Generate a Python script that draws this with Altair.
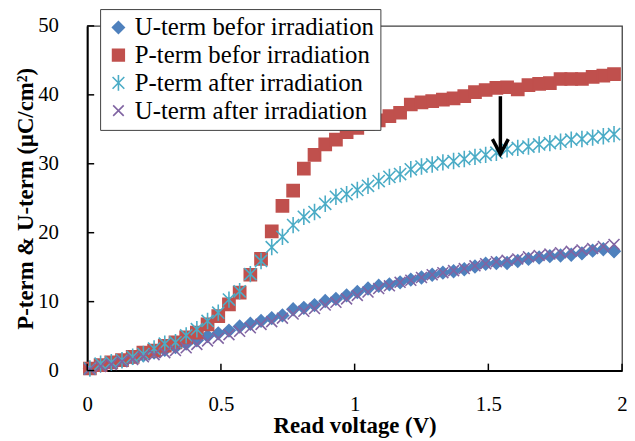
import altair as alt
import pandas as pd

# ---------------- data ----------------
voltage = [0.01, 0.05, 0.09, 0.13, 0.17, 0.21, 0.25, 0.29, 0.33, 0.37,
           0.41, 0.45, 0.49, 0.53, 0.57, 0.61, 0.65, 0.69, 0.73, 0.77,
           0.81, 0.85, 0.89, 0.93, 0.97, 1.01, 1.05, 1.09, 1.13, 1.17,
           1.21, 1.25, 1.29, 1.33, 1.37, 1.41, 1.45, 1.49, 1.53, 1.57,
           1.61, 1.65, 1.69, 1.73, 1.77, 1.81, 1.85, 1.89, 1.93, 1.97]

u_before = [0.3, 0.7, 1.0, 1.4, 1.8, 2.2, 2.6, 3.0, 3.4, 3.9,
            4.4, 5.0, 5.4, 5.8, 6.4, 6.8, 7.2, 7.6, 8.0, 8.9,
            9.1, 9.5, 10.1, 10.4, 10.9, 11.4, 11.9, 12.3, 12.5, 12.8,
            13.2, 13.5, 13.9, 14.2, 14.4, 14.7, 15.1, 15.5, 15.6, 15.6,
            15.9, 16.2, 16.4, 16.6, 16.7, 16.8, 17.0, 17.4, 17.6, 17.3]

p_before = [0.3, 0.8, 1.2, 1.5, 2.0, 2.6, 2.9, 3.6, 4.1, 4.8,
            5.5, 6.7, 7.9, 9.6, 11.3, 13.9, 16.2, 20.2, 23.9, 26.1,
            29.3, 31.3, 32.8, 33.5, 34.6, 35.2, 35.8, 36.3, 36.9, 37.4,
            38.6, 38.9, 39.1, 39.3, 39.5, 39.8, 40.4, 40.7, 41.0, 41.1,
            40.8, 41.4, 41.6, 41.7, 42.3, 42.3, 42.3, 42.6, 42.8, 43.0]

p_after = [0.3, 1.0, 1.2, 1.5, 2.0, 2.4, 3.2, 3.9, 4.1, 5.1,
           6.0, 7.2, 8.4, 10.3, 11.5, 14.0, 15.9, 17.9, 19.4, 21.1,
           22.3, 23.0, 24.2, 25.2, 25.6, 26.2, 26.8, 27.5, 28.1, 28.5,
           29.2, 29.6, 29.9, 30.2, 30.4, 30.7, 31.0, 31.3, 31.6, 32.1,
           32.3, 32.5, 32.8, 33.0, 33.2, 33.5, 33.6, 33.8, 34.0, 34.3]

u_after = [0.2, 0.6, 0.9, 1.3, 1.6, 2.0, 2.3, 2.6, 2.9, 3.3,
           3.8, 4.3, 4.7, 5.2, 5.7, 6.2, 6.7, 7.1, 7.6, 8.2,
           8.6, 9.0, 9.5, 9.9, 10.4, 10.9, 11.4, 11.9, 12.3, 12.8,
           13.1, 13.5, 13.9, 14.2, 14.5, 14.8, 15.2, 15.5, 15.8, 16.0,
           16.2, 16.5, 16.7, 16.9, 17.1, 17.3, 17.5, 17.7, 18.0, 18.3]

series_names = ["U-term befor irradiation", "P-term befor irradiation",
                "P-term after irradiation", "U-term after irradiation"]
series_values = [u_before, p_before, p_after, u_after]

x_ticks = [0, 0.5, 1, 1.5, 2]
y_ticks = [0, 10, 20, 30, 40, 50]

# annotation arrow (data coordinates)
arrow_x = [1.545]
arrow_top = [39.8]
arrow_tip = [31.4]

# ---------------- styling ----------------
colors = ["#4F81BD", "#C0504D", "#4BACC6", "#8064A2"]
fills = ["#4F81BD", "#C0504D", "transparent", "transparent"]
asterisk = "M-1,-1L1,1M-1,1L1,-1M0,-1.35L0,1.35"
xmark = "M-0.9,-0.9L0.9,0.9M-0.9,0.9L0.9,-0.9"
shapes = ["diamond", "square", asterisk, xmark]
FONT = "Liberation Serif"

rows = []
for name, vals in zip(series_names, series_values):
    for v, val in zip(voltage, vals):
        rows.append({"V": v, "Q": val, "series": name})
df = pd.DataFrame(rows)

xscale = alt.Scale(domain=[0, 2], nice=False)
yscale = alt.Scale(domain=[0, 50], nice=False)

xaxis = alt.Axis(values=x_ticks, ticks=False, grid=False, domainColor="black",
                 domainWidth=2, labelFont=FONT, labelFontSize=21, labelColor="black",
                 labelPadding=23, labelFlush=False, labelExpr="format(datum.value, '')",
                 title="Read voltage (V)", titleFont=FONT, titleFontSize=23,
                 titleFontWeight="bold", titleColor="black", titlePadding=1)
yaxis = alt.Axis(values=y_ticks, ticks=False, grid=False, domainColor="black",
                 domainWidth=2, labelFont=FONT, labelFontSize=21, labelColor="black",
                 labelPadding=29, title="P-term & U-term (μC/cm²)", titleFont=FONT,
                 titleFontSize=23, titleFontWeight="bold", titleColor="black",
                 titlePadding=0)

legend = alt.Legend(title=None, orient="none", legendX=13, legendY=-17,
                    labelFont=FONT, labelFontSize=25, labelColor="black",
                    symbolSize=140, symbolStrokeWidth=1.6, labelOffset=4,
                    rowPadding=2, padding=6, strokeColor="#404040",
                    fillColor="white", cornerRadius=0, labelLimit=400)

points = alt.Chart(df).mark_point(size=150, strokeWidth=1.6, opacity=1).encode(
    x=alt.X("V:Q", scale=xscale, axis=xaxis),
    y=alt.Y("Q:Q", scale=yscale, axis=yaxis),
    shape=alt.Shape("series:N", scale=alt.Scale(domain=series_names, range=shapes), legend=legend),
    stroke=alt.Stroke("series:N", scale=alt.Scale(domain=series_names, range=colors), legend=legend),
    fill=alt.Fill("series:N", scale=alt.Scale(domain=series_names, range=fills), legend=legend),
)

# inward tick marks
xt = alt.Chart(pd.DataFrame({"t": x_ticks})).mark_rule(color="black", strokeWidth=1.5).encode(
    x=alt.X("t:Q", scale=xscale), y=alt.value(348), y2=alt.value(341))
yt = alt.Chart(pd.DataFrame({"t": y_ticks})).mark_rule(color="black", strokeWidth=1.5).encode(
    y=alt.Y("t:Q", scale=yscale), x=alt.value(0), x2=alt.value(7))

adf = pd.DataFrame({"x": arrow_x, "y1": arrow_top, "y2": arrow_tip})
shaft = alt.Chart(adf).mark_rule(color="black", strokeWidth=3.5).encode(
    x=alt.X("x:Q", scale=xscale), y=alt.Y("y1:Q", scale=yscale), y2="y2:Q")
head = alt.Chart(adf).mark_point(shape="M-1,-1.9L0,0L1,-1.9", size=256, filled=False,
                                 stroke="black", strokeWidth=3.5, opacity=1).encode(
    x=alt.X("x:Q", scale=xscale), y=alt.Y("y2:Q", scale=yscale))

chart = alt.layer(points, xt, yt, shaft, head).properties(
    width=540, height=348,
    autosize=alt.AutoSizeParams(type="none"),
    padding={"left": 80, "top": 16, "right": 5, "bottom": 66},
).configure_view(stroke="#404040", strokeWidth=1.3)

chart.save("out.html", embed_options={"renderer": "svg", "actions": False})
